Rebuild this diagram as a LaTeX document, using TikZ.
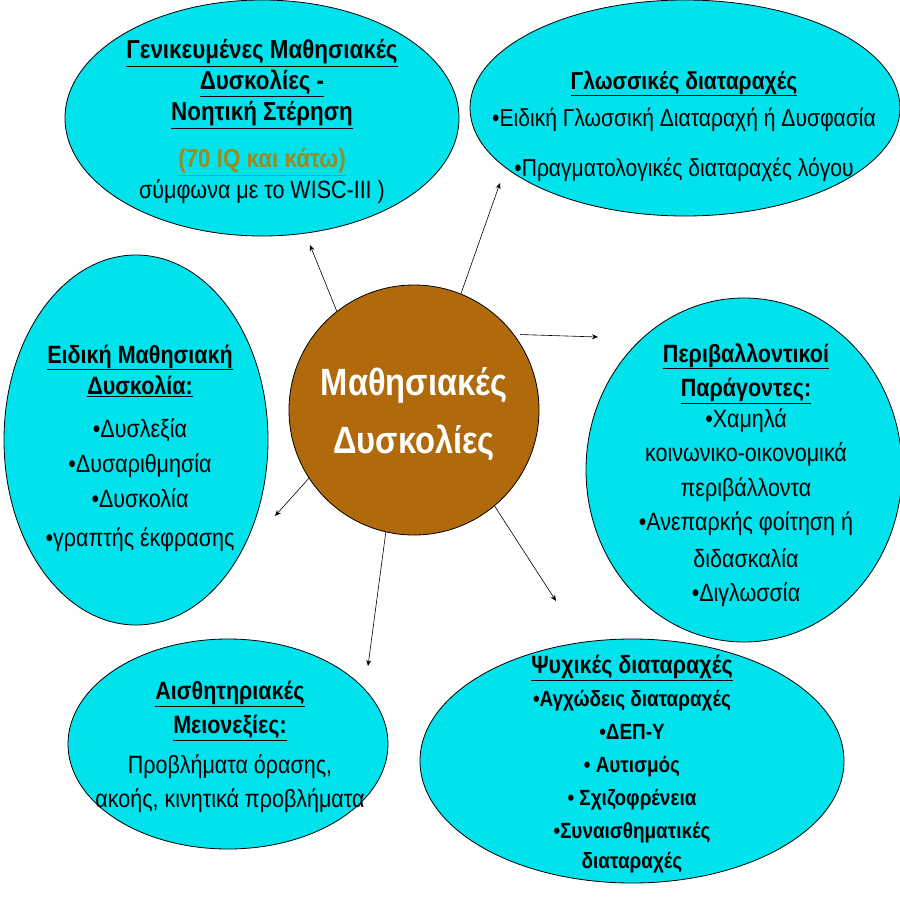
\documentclass[tikz,border=0pt]{standalone}
\usepackage{fontspec}
\setmainfont[FakeStretch=0.86]{Liberation Sans}
\usetikzlibrary{shapes.geometric,arrows.meta}
\definecolor{cy}{HTML}{00E3EC}
\definecolor{br}{HTML}{B06A0C}
\definecolor{ol}{HTML}{9C8A1F}
\begin{document}
\begin{tikzpicture}[x=1pt,y=-1pt,
  ell/.style={ellipse,draw=black,line width=0.8pt,fill=cy,inner sep=0pt},
  txt/.style={align=center,font=\fontsize{24.5}{31}\selectfont,inner sep=0pt},
  arr/.style={-{Stealth[length=6pt,width=5pt]},line width=0.6pt}]
\useasboundingbox (0,0) rectangle (900,900);
\fill[white] (0,0) rectangle (900,900);
\node[ell,minimum width=394,minimum height=236] (tl) at (262,118) {};
\node[ell,minimum width=430,minimum height=216] (tr) at (685,108) {};
\node[ell,minimum width=264,minimum height=370] (l) at (136,440) {};
\node[ell,minimum width=316,minimum height=344] (r) at (744,470) {};
\node[ell,minimum width=320,minimum height=210] (bl) at (228,744) {};
\node[ell,minimum width=424,minimum height=244] (bri) at (632,761) {};
\node[circle,draw=black,line width=0.8pt,fill=br,minimum size=250,inner sep=0pt] (c) at (414,410) {};
\node[txt,text=white,font=\bfseries\fontsize{38}{58}\selectfont] (ct) at (414,414) {Μαθησιακές\\Δυσκολίες};

\node[txt,font=\bfseries\fontsize{26}{31}\selectfont] (tlt) at (262,122) {\underline{Γενικευμένες Μαθησιακές}\\\underline{Δυσκολίες -}\\\underline{Νοητική  Στέρηση}\\[16pt]\textcolor{ol}{\underline{(70 IQ και κάτω)}}\\\mdseries\fontsize{25}{31}\selectfont σύμφωνα με το WISC-III  )};
\node[txt] (trt) at (684,126) {\textbf{\underline{Γλωσσικές διαταραχές}}\\[6pt]•Ειδική Γλωσσική Διαταραχή ή Δυσφασία\\[19pt]•Πραγματολογικές διαταραχές λόγου};
\node[txt,font=\fontsize{25}{35}\selectfont] (lt) at (140,448) {\textbf{\underline{Ειδική  Μαθησιακή}}\\[-4pt]\textbf{\underline{Δυσκολία:}}\\[8pt]•Δυσλεξία\\•Δυσαριθμησία\\•Δυσκολία\\[4pt]•γραπτής έκφρασης};
\node[txt,font=\fontsize{25}{34.5}\selectfont] (rt) at (746,475) {\textbf{\underline{Περιβαλλοντικοί}}\\\textbf{\underline{Παράγοντες:}}\\[-4pt]•Χαμηλά\\κοινωνικο-οικονομικά\\περιβάλλοντα\\•Ανεπαρκής φοίτηση ή\\[2pt]διδασκαλία\\•Διγλωσσία};
\node[txt,font=\fontsize{25}{34}\selectfont] (blt) at (230,747) {\textbf{\underline{Αισθητηριακές}}\\\textbf{\underline{Μειονεξίες:}}\\[6pt]Προβλήματα όρασης,\\ακοής, κινητικά προβλήματα};
\node[txt,font=\bfseries\fontsize{22}{33}\selectfont] (brt) at (632,764) {{\fontsize{25}{33}\selectfont\underline{Ψυχικές διαταραχές}}\\•Αγχώδεις διαταραχές\\•ΔΕΠ-Υ\\• Αυτισμός\\•  Σχιζοφρένεια\\•Συναισθηματικές\\[-3pt]διαταραχές};

\coordinate (e1) at (310,245);
\coordinate (e2) at (500,183);
\coordinate (e3) at (598,337);
\coordinate (e4) at (275,516);
\coordinate (e5) at (368,666);
\coordinate (e6) at (556,601);
\draw[arr] (c.128) -- (e1);
\draw[arr] (c.68) -- (e2);
\draw[arr] (c.37) ++(6,0) -- (e3);
\draw[arr] (c.-147) -- (e4);
\draw[arr] (c.-103) -- (e5);
\draw[arr] (c.-50) -- (e6);
\end{tikzpicture}
\end{document}
